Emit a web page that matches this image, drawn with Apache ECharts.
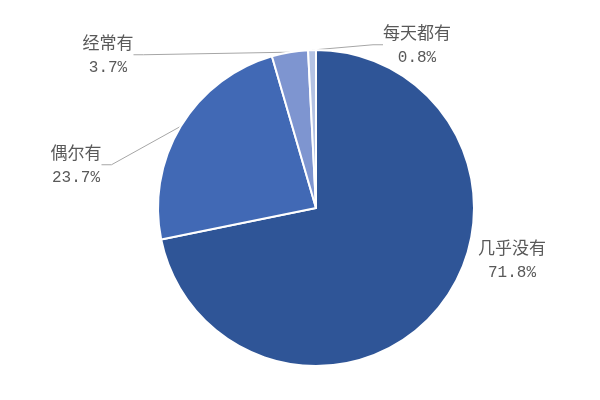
<!DOCTYPE html>
<html>
<head>
<meta charset="utf-8">
<script src="https://cdn.jsdelivr.net/npm/echarts@6/dist/echarts.min.js"></script>
<style>
  html, body { margin: 0; padding: 0; background: #fff; }
  #main { width: 600px; height: 400px; }
</style>
</head>
<body>
<div id="main"></div>
<script>
// 数据
const categories = ['几乎没有', '偶尔有', '经常有', '每天都有'];
const percents = [71.8, 23.7, 3.7, 0.8];
const colors = ['#2F5597', '#4169B5', '#7E95D0', '#B4C3E4'];

// label spots (text block centres) and whether a leader line is drawn
const labelSpots = [[512, 260], [76, 165], [108, 55], [417, 45]];
const showLine = [false, true, true, true];

let chart = echarts.init(document.getElementById('main'));

chart.setOption({
  animation: false,
  series: [
    {
      type: 'pie',
      center: [316, 208],
      radius: 158,
      startAngle: 90,
      clockwise: true,
      data: categories.map(function (name, i) {
        return {
          name: name,
          value: percents[i],
          itemStyle: { color: colors[i] },
          labelLine: { show: showLine[i] }
        };
      }),
      itemStyle: {
        borderColor: '#fff',
        borderWidth: 2
      },
      label: {
        show: true,
        position: 'outside',
        color: '#595959',
        align: 'center',
        formatter: function (p) {
          return '{n|' + p.name + '}\n{v|' + p.value.toFixed(1) + '%}';
        },
        rich: {
          n: {
            fontSize: 17,
            lineHeight: 25,
            color: '#595959',
            fontFamily: '"Noto Sans CJK SC", sans-serif'
          },
          v: {
            fontSize: 16,
            lineHeight: 25,
            color: '#595959',
            fontFamily: '"Liberation Mono", monospace'
          }
        }
      },
      labelLine: {
        lineStyle: { color: '#A6A6A6', width: 1 },
        length: 10,
        length2: 10
      },
      labelLayout: function (params) {
        const s = labelSpots[params.dataIndex];
        return {
          x: s[0],
          y: s[1],
          align: 'center',
          verticalAlign: 'middle'
        };
      }
    }
  ]
});
</script>
</body>
</html>
